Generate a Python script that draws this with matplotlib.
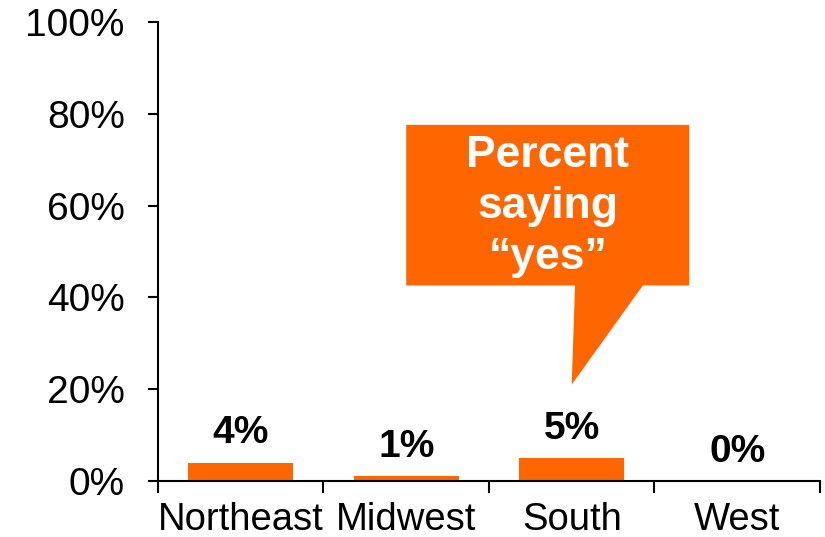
import matplotlib
matplotlib.use("Agg")
import matplotlib.pyplot as plt
from matplotlib.patches import Polygon

# survey results by region
regions = ["Northeast", "Midwest", "South", "West"]
pct_yes = [4, 1, 5, 0]
y_ticks = [0, 20, 40, 60, 80, 100]
y_tick_labels = ["0%", "20%", "40%", "60%", "80%", "100%"]
callout_text = "Percent\nsaying\n\u201cyes\u201d"

orange = "#FF6600"
plt.rcParams["font.family"] = ["Liberation Sans", "DejaVu Sans"]

fig = plt.figure(figsize=(8.25, 5.37), dpi=100)
ax = fig.add_axes([0.1915, 0.1043, 0.8024, 0.8547])

x = list(range(len(regions)))
ax.bar(x, pct_yes, width=0.635, color=orange, zorder=2)

for xi, v in zip(x, pct_yes):
    ax.annotate(f"{v}%", (xi, v), xytext=(0, 14), textcoords="offset points",
                ha="center", va="baseline", fontsize=28, fontweight="bold")

ax.set_xlim(-0.5, len(regions) - 0.5)
ax.set_ylim(0, 100)

ax.set_yticks(y_ticks)
ax.set_yticklabels(y_tick_labels, fontsize=28)
ax.tick_params(axis="y", length=7, width=1.5, pad=17)

# category labels centred, tick marks between categories
ax.set_xticks(x)
ax.set_xticklabels(regions, fontsize=27.5)
ax.tick_params(axis="x", which="major", length=0, pad=15)
ax.set_xticks([i - 0.5 for i in range(len(regions) + 1)], minor=True)
ax.tick_params(axis="x", which="minor", length=8.5, width=1.5, direction="out")

for side in ["top", "right"]:
    ax.spines[side].set_visible(False)
ax.spines["left"].set_linewidth(1.5)
ax.spines["bottom"].set_linewidth(1.5)

# speech-bubble callout
bubble = Polygon([(1.0, 77.6), (2.71, 77.6), (2.71, 42.6), (2.43, 42.6),
                  (2.0, 21.0), (2.02, 42.6), (1.0, 42.6)],
                 closed=True, facecolor=orange, edgecolor="none", zorder=3)
ax.add_patch(bubble)
ax.text(1.856, 59.8, callout_text, ha="center", va="center", color="white",
        fontsize=32, fontweight="bold", linespacing=1.31, zorder=4)

fig.savefig("out.png", dpi=100)
